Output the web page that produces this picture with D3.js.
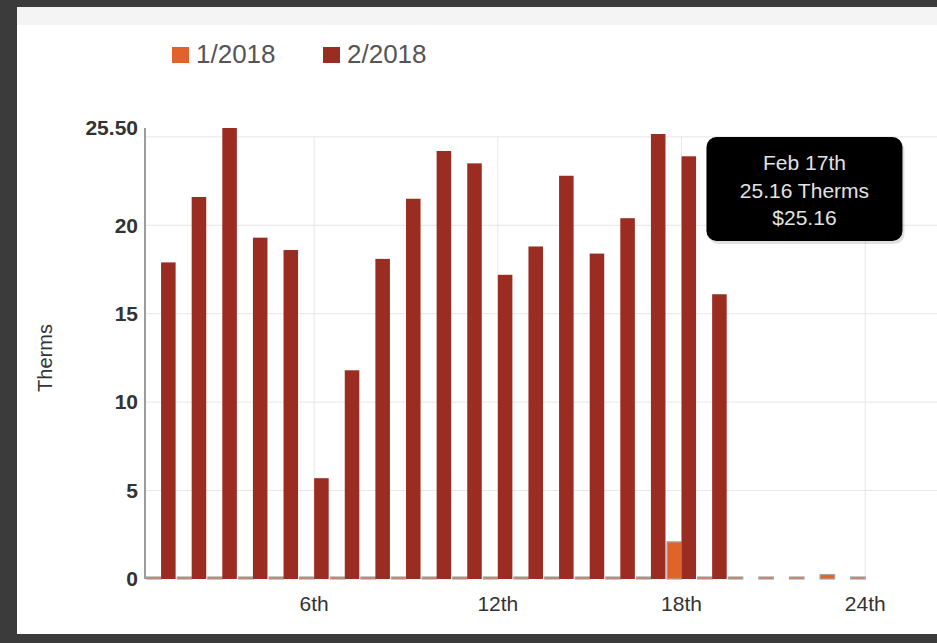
<!DOCTYPE html>
<html>
<head>
<meta charset="utf-8">
<script src="https://cdn.jsdelivr.net/npm/d3@7"></script>
<style>
  html, body { margin: 0; padding: 0; background: #3b3b3b; overflow: hidden; }
  #bar-chart { width: 937px; height: 643px; }
  svg { display: block; font-family: "Liberation Sans", Arial, sans-serif; }
</style>
</head>
<body>
<div id="bar-chart"></div>
<script>
// Data
const days = [1, 2, 3, 4, 5, 6, 7, 8, 9, 10, 11, 12, 13, 14,
              15, 16, 17, 18, 19, 20, 21, 22, 23, 24, 25, 26, 27, 28];
const seriesNames = ["1/2018", "2/2018"];
const jan2018 = [0, 0, 0, 0, 0, 0, 0, 0, 0, 0, 0, 0, 0, 0, 0, 0, 0, 2.1,
                 0, 0.05, 0.05, 0.05, 0.25, 0.05];
const feb2018 = [17.9, 21.6, 25.5, 19.3, 18.6, 5.7, 11.8, 18.1, 21.5, 24.2,
                 23.5, 17.2, 18.8, 22.8, 18.4, 20.4, 25.16, 23.9, 16.1];
const yTicks = [0, 5, 10, 15, 20, 25];
const yMax = 25.5;
const xTicks = [6, 12, 18, 24];
const tooltipDay = 17;

const drawBarChart = () => {

  /*******************************/
  /*    Declare the constants    */
  /*******************************/
  const width = 937;
  const height = 643;
  const margin = {top: 128, left: 145, bottom: 64};
  const innerBottom = height - margin.bottom;
  const step = 30.67;
  const colours = ["#e2622b", "#9b2c22"];

  const svg = d3.select("#bar-chart")
    .append("svg")
      .attr("width", width)
      .attr("height", height);

  // frame: dark border, white panel, light strip at the top
  svg.append("rect")
      .attr("x", 17).attr("y", 7)
      .attr("width", width).attr("height", 627)
      .attr("fill", "#ffffff");
  svg.append("rect")
      .attr("x", 17).attr("y", 7)
      .attr("width", width).attr("height", 18)
      .attr("fill", "#f4f4f4");

  /****************************/
  /*    Declare the scales    */
  /****************************/
  const xScale = d3.scaleBand()
    .domain(days)
    .range([margin.left, margin.left + days.length * step])
    .padding(0.05);

  const xSub = d3.scaleBand()
    .domain(seriesNames)
    .range([0, xScale.bandwidth()]);

  const yScale = d3.scaleLinear()
    .domain([0, yMax])
    .range([innerBottom, margin.top]);

  const xCenter = d => xScale(d) + xScale.bandwidth() / 2;

  /***************************/
  /*        Grid lines       */
  /***************************/
  svg.append("g")
    .selectAll("line")
    .data(yTicks.filter(t => t > 0))
    .join("line")
      .attr("x1", margin.left)
      .attr("x2", width)
      .attr("y1", d => yScale(d))
      .attr("y2", d => yScale(d))
      .attr("stroke", "#e6e6e6")
      .attr("stroke-width", 1);

  svg.append("g")
    .selectAll("line")
    .data(xTicks)
    .join("line")
      .attr("x1", d => xCenter(d))
      .attr("x2", d => xCenter(d))
      .attr("y1", yScale(25))
      .attr("y2", innerBottom)
      .attr("stroke", "#e6e6e6")
      .attr("stroke-width", 1);

  /***************************/
  /*         The bars        */
  /***************************/
  const series = [jan2018, feb2018];
  series.forEach((values, i) => {
    const name = seriesNames[i];
    svg.append("g")
      .selectAll("rect")
      .data(values.map((v, j) => ({day: days[j], value: v})))
      .join("rect")
        .attr("x", d => xScale(d.day) + xSub(name))
        .attr("width", xSub.bandwidth())
        .attr("y", d => Math.min(yScale(d.value), innerBottom - 2))
        .attr("height", d => Math.max(innerBottom - yScale(d.value), 2))
        .attr("fill", colours[i])
        .attr("stroke", i === 0 ? "#a5a5a5" : "none")
        .attr("stroke-width", i === 0 ? 1.2 : 0);
  });

  /***************************/
  /*     Append the axes     */
  /***************************/
  // y axis line
  svg.append("line")
      .attr("x1", margin.left).attr("x2", margin.left)
      .attr("y1", yScale(yMax)).attr("y2", innerBottom)
      .attr("stroke", "#9c9c9c")
      .attr("stroke-width", 2);

  // y tick labels, 25 is replaced by the max label
  const yLabels = yTicks.filter(t => t < 25).concat([yMax]);
  svg.append("g")
    .selectAll("text")
    .data(yLabels)
    .join("text")
      .text(d => d === yMax ? d3.format(".2f")(d) : d)
      .attr("x", margin.left - 7)
      .attr("y", d => yScale(d))
      .attr("dy", "0.35em")
      .attr("text-anchor", "end")
      .attr("font-size", 21)
      .attr("font-weight", "bold")
      .attr("fill", "#333");

  // bottom axis
  const bottomAxis = d3.axisBottom(xScale)
    .tickValues(xTicks)
    .tickFormat(d => d + "th")
    .tickSize(0)
    .tickPadding(0);
  const xAxis = svg.append("g")
      .attr("transform", `translate(0, ${innerBottom})`)
      .call(bottomAxis);
  xAxis.select(".domain").remove();
  xAxis.selectAll("text")
      .attr("y", 32)
      .attr("dy", 0)
      .attr("font-family", "Liberation Sans, Arial, sans-serif")
      .attr("font-size", 21)
      .attr("fill", "#333");

  // y axis title
  svg.append("text")
      .text("Therms")
      .attr("transform", `translate(52, 358) rotate(-90)`)
      .attr("text-anchor", "middle")
      .attr("font-size", 20)
      .attr("fill", "#333");

  /***************************/
  /*          Legend         */
  /***************************/
  const legend = svg.append("g")
    .selectAll("g")
    .data(seriesNames)
    .join("g")
      .attr("transform", (d, i) => `translate(${172 + i * 151}, 47)`);
  legend.append("rect")
      .attr("width", 17).attr("height", 16)
      .attr("fill", (d, i) => colours[i]);
  legend.append("text")
      .text(d => d)
      .attr("x", 24)
      .attr("y", 16)
      .attr("font-size", 26)
      .attr("fill", "#555");

  /***************************/
  /*         Tooltip         */
  /***************************/
  const tipValue = feb2018[days.indexOf(tooltipDay)];
  const tipX = xScale(tooltipDay) + xScale.bandwidth() + 41;
  const tipY = yScale(tipValue) + 3;
  const tip = svg.append("g")
      .attr("transform", `translate(${tipX}, ${tipY})`);
  tip.append("rect")
      .attr("x", 2).attr("y", 3)
      .attr("width", 196).attr("height", 104)
      .attr("rx", 10)
      .attr("fill", "rgba(0,0,0,0.12)");
  tip.append("rect")
      .attr("width", 196).attr("height", 104)
      .attr("rx", 10)
      .attr("fill", "#000");
  const tipLines = [
    `Feb ${tooltipDay}th`,
    `${tipValue.toFixed(2)} Therms`,
    `$${tipValue.toFixed(2)}`
  ];
  tip.selectAll("text")
    .data(tipLines)
    .join("text")
      .text(d => d)
      .attr("x", 98)
      .attr("y", (d, i) => 33 + i * 27.5)
      .attr("text-anchor", "middle")
      .attr("font-size", 21)
      .attr("fill", "#e2e2e2");
};

drawBarChart();
</script>
</body>
</html>
